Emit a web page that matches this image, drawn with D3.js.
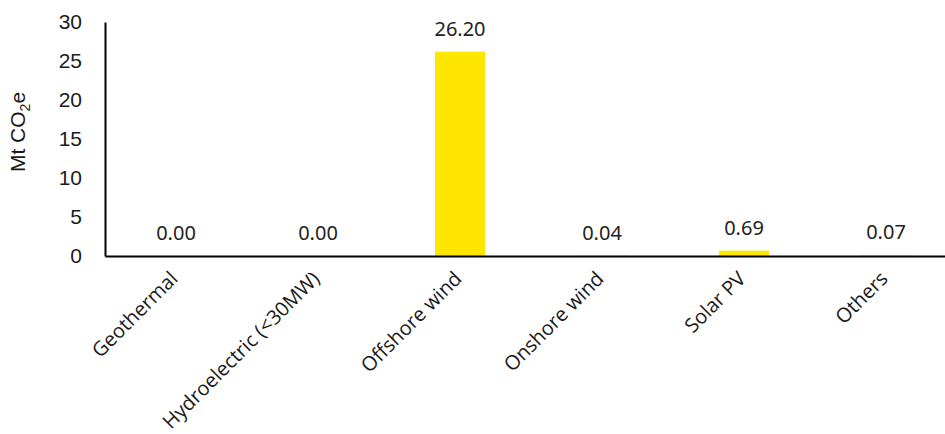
<!DOCTYPE html>
<html><head><meta charset="utf-8">
<script src="https://cdn.jsdelivr.net/npm/d3@7"></script>
<style>body{margin:0;background:#fff}svg{display:block}</style>
</head><body>
<svg id="c" width="945" height="434"></svg>
<script>
const categories = ["Geothermal","Hydroelectric (<30MW)","Offshore wind","Onshore wind","Solar PV","Others"];
const values = [0.00, 0.00, 26.20, 0.04, 0.69, 0.07];
const yTicks = [0,5,10,15,20,25,30];

const svg = d3.select("#c");
const x = d3.scaleBand().domain(categories).range([105, 957]).paddingInner(0.648).paddingOuter(0.324);
const y = d3.scaleLinear().domain([0,30]).range([256,22]);

// bars
svg.selectAll("rect.bar").data(values).enter().append("rect")
  .attr("x",(d,i)=>x(categories[i]))
  .attr("width",x.bandwidth())
  .attr("y",d=>y(d))
  .attr("height",d=>y(0)-y(d))
  .attr("fill","#FFE600");

// y axis
const ya = svg.append("g").attr("transform","translate(105,0)")
  .call(d3.axisLeft(y).tickValues(yTicks).tickSize(0).tickPadding(23));
ya.select(".domain").attr("stroke","#000").attr("stroke-width",2);
ya.selectAll("text").attr("font-family","Liberation Sans, Arial, sans-serif").attr("font-size",21).attr("fill","#1a1a1a");

// x axis
const xa = svg.append("g").attr("transform","translate(0,256)")
  .call(d3.axisBottom(x).tickSize(0).tickFormat(""));
xa.select(".domain").attr("stroke","#000").attr("stroke-width",2);

// category labels
svg.append("g").selectAll("text").data(categories).enter().append("text")
  .attr("transform",d=>`translate(${x(d)+x.bandwidth()/2+3},280) rotate(-45)`)
  .attr("text-anchor","end")
  .attr("font-family","Open Sans, sans-serif")
  .attr("font-size",20)
  .attr("fill","#1a1a1a")
  .text(d=>d);

// value labels
svg.append("g").selectAll("text").data(values).enter().append("text")
  .attr("x",(d,i)=>x(categories[i])+x.bandwidth()/2)
  .attr("y",d=>y(d)-16)
  .attr("text-anchor","middle")
  .attr("font-family","Noto Sans, sans-serif")
  .attr("font-size",20)
  .attr("fill","#222")
  .text(d=>d.toFixed(2));

// y title
const t = svg.append("text")
  .attr("transform","translate(25,132) rotate(-90)")
  .attr("text-anchor","middle")
  .attr("font-family","Liberation Sans, Arial, sans-serif")
  .attr("font-size",21)
  .attr("fill","#1a1a1a");
t.append("tspan").text("Mt CO");
t.append("tspan").attr("font-size",14).attr("dy",5).text("2");
t.append("tspan").attr("dy",-5).text("e");
</script>
</body></html>
